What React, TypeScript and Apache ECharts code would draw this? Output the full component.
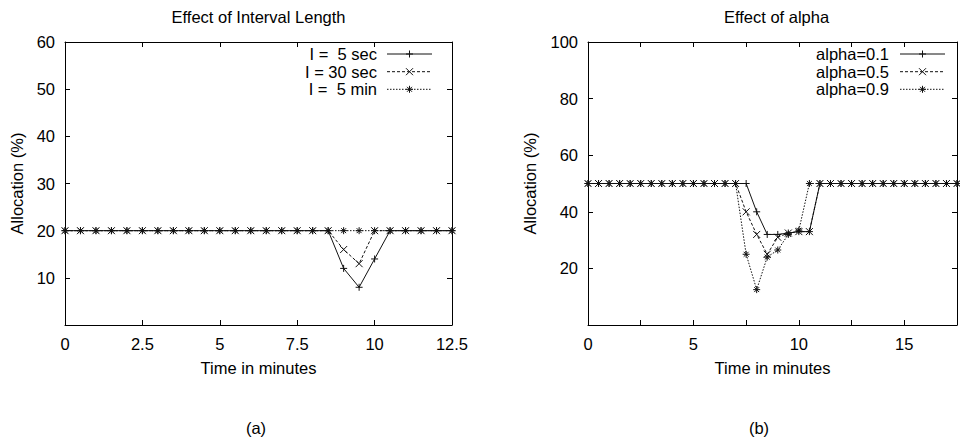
import React, { useEffect, useRef } from "react";
import * as echarts from "echarts";

// ---------- data ----------
const TIME_A = [0, 0.5, 1, 1.5, 2, 2.5, 3, 3.5, 4, 4.5, 5, 5.5, 6, 6.5, 7, 7.5, 8, 8.5, 9, 9.5, 10, 10.5, 11, 11.5, 12, 12.5];
const SEC5 = [20, 20, 20, 20, 20, 20, 20, 20, 20, 20, 20, 20, 20, 20, 20, 20, 20, 20, 12, 8, 14, 20, 20, 20, 20, 20];
const SEC30 = [20, 20, 20, 20, 20, 20, 20, 20, 20, 20, 20, 20, 20, 20, 20, 20, 20, 20, 16, 13, 20, 20, 20, 20, 20, 20];
const MIN5 = [20, 20, 20, 20, 20, 20, 20, 20, 20, 20, 20, 20, 20, 20, 20, 20, 20, 20, 20, 20, 20, 20, 20, 20, 20, 20];

const TIME_B = [0, 0.5, 1, 1.5, 2, 2.5, 3, 3.5, 4, 4.5, 5, 5.5, 6, 6.5, 7, 7.5, 8, 8.5, 9, 9.5, 10, 10.5, 11, 11.5, 12, 12.5, 13, 13.5, 14, 14.5, 15, 15.5, 16, 16.5, 17, 17.5];
const ALPHA01 = [50, 50, 50, 50, 50, 50, 50, 50, 50, 50, 50, 50, 50, 50, 50, 50, 40, 32, 32, 32.5, 33, 33, 50, 50, 50, 50, 50, 50, 50, 50, 50, 50, 50, 50, 50, 50];
const ALPHA05 = [50, 50, 50, 50, 50, 50, 50, 50, 50, 50, 50, 50, 50, 50, 50, 40, 32, 25, 31, 32.5, 33, 33, 50, 50, 50, 50, 50, 50, 50, 50, 50, 50, 50, 50, 50, 50];
const ALPHA09 = [50, 50, 50, 50, 50, 50, 50, 50, 50, 50, 50, 50, 50, 50, 50, 25, 12.5, 24, 26.5, 32, 33.5, 50, 50, 50, 50, 50, 50, 50, 50, 50, 50, 50, 50, 50, 50, 50];

const LEGEND_A = ["I =  5 sec", "I = 30 sec", "I =  5 min"];
const LEGEND_B = ["alpha=0.1", "alpha=0.5", "alpha=0.9"];
const TITLES = ["Effect of Interval Length", "Effect of alpha"];
const X_NAME = "Time in minutes";
const Y_NAME = "Allocation (%)";
const SUBLABELS = ["(a)", "(b)"];

// ---------- styles ----------
const FONT = '"Liberation Sans", Arial, Helvetica, sans-serif';
const FS = 16.5;
const INK = "#111";
const PLUS = "path://M0,5L10,5M5,0L5,10";
const CROSS = "path://M0,0L10,10M10,0L0,10";
const STAR = "path://M0,5L10,5M5,0L5,10M1.5,1.5L8.5,8.5M8.5,1.5L1.5,8.5";
const KINDS = ["plus", "cross", "star"];
const SYMS = [PLUS, CROSS, STAR];
const DASHES: any[] = ["solid", [3, 2], [1.5, 1.5]];

function markerEls(kind: string, cx: number, cy: number) {
  const r = 3.5;
  const segs: number[][] = [];
  if (kind === "plus" || kind === "star") {
    segs.push([cx - r, cy, cx + r, cy], [cx, cy - r, cx, cy + r]);
  }
  if (kind === "cross") {
    segs.push([cx - r, cy - r, cx + r, cy + r], [cx + r, cy - r, cx - r, cy + r]);
  }
  if (kind === "star") {
    const d = r * 0.7;
    segs.push([cx - d, cy - d, cx + d, cy + d], [cx + d, cy - d, cx - d, cy + d]);
  }
  return segs.map((s) => ({
    type: "line",
    silent: true,
    shape: { x1: s[0], y1: s[1], x2: s[2], y2: s[3] },
    style: { stroke: INK, lineWidth: 1 },
  }));
}

function legendEls(labels: string[], textRight: number, lineStart: number, lineEnd: number) {
  const rows = [54, 71.7, 89.3];
  const els: any[] = [];
  labels.forEach((lab, i) => {
    const y = rows[i];
    els.push({
      type: "text",
      silent: true,
      x: textRight,
      y,
      style: { text: lab, align: "right", verticalAlign: "middle", fontSize: FS, fontFamily: FONT, fill: "#000" },
    });
    els.push({
      type: "line",
      silent: true,
      shape: { x1: lineStart, y1: y, x2: lineEnd, y2: y },
      style: { stroke: INK, lineWidth: 1, lineDash: DASHES[i] === "solid" ? null : DASHES[i] },
    });
    markerEls(KINDS[i], (lineStart + lineEnd) / 2, y).forEach((e) => els.push(e));
  });
  return els;
}

function textEl(text: string, x: number, y: number) {
  return {
    type: "text",
    silent: true,
    x,
    y,
    style: { text, align: "center", verticalAlign: "middle", fontSize: FS, fontFamily: FONT, fill: "#000" },
  };
}

const axisLine = { show: true, onZero: false, lineStyle: { color: "#000", width: 1 } };
const axisTick = { show: true, inside: true, length: 5, lineStyle: { color: "#000", width: 1 } };
const labelStyle = { color: "#000", fontSize: FS, fontFamily: FONT };
const nameStyle = { color: "#000", fontSize: FS, fontFamily: FONT };

function xAxes(grid: number, max: number, labelFmt: (v: number) => string) {
  return [
    {
      type: "value",
      gridIndex: grid,
      position: "bottom",
      min: 0,
      max,
      interval: 2.5,
      axisLine,
      axisTick,
      splitLine: { show: false },
      axisLabel: { ...labelStyle, margin: 10, formatter: labelFmt, showMaxLabel: true, showMinLabel: true },
      name: X_NAME,
      nameLocation: "middle",
      nameGap: 34,
      nameTextStyle: nameStyle,
    },
    {
      type: "value",
      gridIndex: grid,
      position: "top",
      min: 0,
      max,
      interval: 2.5,
      axisLine,
      axisTick,
      splitLine: { show: false },
      axisLabel: { show: false },
    },
  ];
}

function yAxes(grid: number, max: number, interval: number, nameGap: number) {
  return [
    {
      type: "value",
      gridIndex: grid,
      position: "left",
      min: 0,
      max,
      interval,
      axisLine,
      axisTick,
      splitLine: { show: false },
      axisLabel: { ...labelStyle, margin: 10, showMinLabel: false },
      name: Y_NAME,
      nameLocation: "middle",
      nameGap,
      nameRotate: 90,
      nameTextStyle: nameStyle,
    },
    {
      type: "value",
      gridIndex: grid,
      position: "right",
      min: 0,
      max,
      interval,
      axisLine,
      axisTick,
      splitLine: { show: false },
      axisLabel: { show: false },
    },
  ];
}

function lineSeries(name: string, xs: number[], ys: number[], idx: number, axisIdx: number) {
  return {
    type: "line",
    name,
    xAxisIndex: axisIdx,
    yAxisIndex: axisIdx,
    data: xs.map((t, i) => [t, ys[i]]),
    symbol: SYMS[idx],
    symbolSize: 7,
    showAllSymbol: true,
    silent: true,
    lineStyle: { color: INK, width: 1, type: DASHES[idx] },
    itemStyle: { color: INK, borderColor: INK, borderWidth: 1 },
    emphasis: { disabled: true },
  };
}

export default function App() {
  const ref = useRef<HTMLDivElement>(null);
  useEffect(() => {
    if (!ref.current) return;
    const chart = echarts.init(ref.current, undefined, { renderer: "svg" });
    const option: any = {
      animation: false,
      backgroundColor: "#fff",
      grid: [
        { left: 65, top: 42, width: 387, height: 283 },
        { left: 588, top: 42, width: 377, height: 283 },
      ],
      xAxis: [
        ...xAxes(0, 12.5, (v: number) => String(v)),
        ...xAxes(1, 17.5, (v: number) => (v % 5 === 0 ? String(v) : "")),
      ],
      yAxis: [...yAxes(0, 60, 10, 40), ...yAxes(1, 100, 20, 50)],
      series: [
        lineSeries(LEGEND_A[0], TIME_A, SEC5, 0, 0),
        lineSeries(LEGEND_A[1], TIME_A, SEC30, 1, 0),
        lineSeries(LEGEND_A[2], TIME_A, MIN5, 2, 0),
        lineSeries(LEGEND_B[0], TIME_B, ALPHA01, 0, 2),
        lineSeries(LEGEND_B[1], TIME_B, ALPHA05, 1, 2),
        lineSeries(LEGEND_B[2], TIME_B, ALPHA09, 2, 2),
      ],
      graphic: [
        textEl(TITLES[0], 258.5, 17),
        textEl(TITLES[1], 776.5, 17),
        textEl(SUBLABELS[0], 256, 428),
        textEl(SUBLABELS[1], 759, 428),
        ...legendEls(LEGEND_A, 377, 387, 432),
        ...legendEls(LEGEND_B, 889, 900, 945),
      ],
    };
    chart.setOption(option);
    return () => chart.dispose();
  }, []);
  return (
    <div style={{ position: "absolute", left: 0, top: 0, width: 960, height: 441, overflow: "hidden", background: "#fff" }}>
      <div ref={ref} style={{ width: 960, height: 441 }} />
    </div>
  );
}
